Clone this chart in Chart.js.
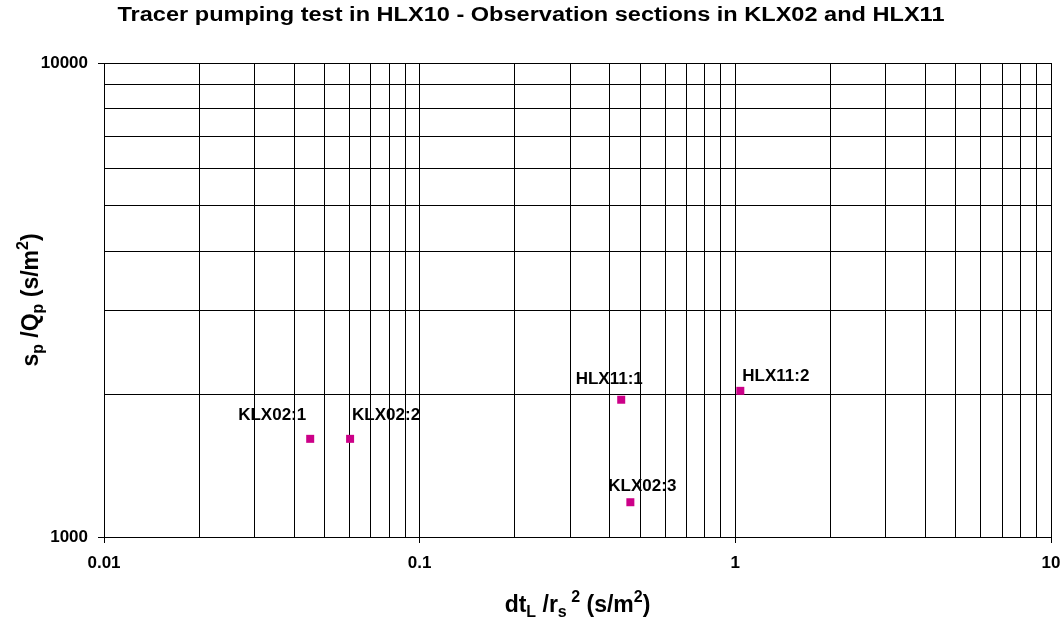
<!DOCTYPE html>
<html>
<head>
<meta charset="utf-8">
<script src="https://cdn.jsdelivr.net/npm/chart.js@4"></script>
<style>
  html, body { margin: 0; padding: 0; background: #fff; }
  canvas { display: block; }
</style>
</head>
<body>
<canvas id="chart" width="1063" height="621"></canvas>
<script>
// values
const titleText = 'Tracer pumping test in HLX10 - Observation sections in KLX02 and HLX11';
const pointNames = ['KLX02:1', 'KLX02:2', 'HLX11:1', 'HLX11:2', 'KLX02:3'];
const dtValues = [0.0450, 0.0602, 0.435, 1.037, 0.465];      // dt_L / r_s^2
const spQpValues = [1611, 1611, 1948, 2034, 1184];           // s_p / Q_p
const xTickLabels = ['0.01', '0.1', '1', '10'];
const yTickLabels = ['1000', '10000'];

const FONT = '"Liberation Sans", Arial, sans-serif';
const MARK = '#CC0088';

// label placement next to each point (dx, dy in px, text alignment)
const labelPlacement = [
  { dx: -4, dy: -24, align: 'right' },
  { dx: 2, dy: -24, align: 'left' },
  { dx: -12, dy: -20, align: 'center' },
  { dx: 2, dy: -15, align: 'left' },
  { dx: 12, dy: -16, align: 'center' }
];

function isDecade(v) {
  const l = Math.log10(v);
  return Math.abs(l - Math.round(l)) < 1e-6;
}
function decadeLabel(v, labels) {
  if (!isDecade(v)) return '';
  const found = labels.find(s => Math.abs(parseFloat(s) - v) < v * 1e-6);
  return found || '';
}
// 1..9 x 10^n grid lines between min and max
function logTicks(scale) {
  const ticks = [];
  const e0 = Math.round(Math.log10(scale.min));
  const e1 = Math.round(Math.log10(scale.max));
  for (let e = e0; e < e1; e++) {
    for (let m = 1; m < 10; m++) ticks.push({ value: parseFloat((m * Math.pow(10, e)).toPrecision(6)) });
  }
  ticks.push({ value: scale.max });
  scale.ticks = ticks;
}

// draws text with subscripts / superscripts, centred on x
function drawRich(ctx, segs, x, y, size) {
  const small = Math.round(size * 0.68);
  let total = 0;
  segs.forEach(s => {
    ctx.font = 'bold ' + (s[1] ? small : size) + 'px ' + FONT;
    s.w = ctx.measureText(s[0]).width;
    total += s.w;
  });
  let cx = x - total / 2;
  ctx.textAlign = 'left';
  ctx.textBaseline = 'alphabetic';
  segs.forEach(s => {
    ctx.font = 'bold ' + (s[1] ? small : size) + 'px ' + FONT;
    let off = 0;
    if (s[1] === 1) off = size * 0.2;
    if (s[1] === 2) off = -size * 0.42;
    ctx.fillText(s[0], cx, y + off);
    cx += s.w;
  });
}

const textPlugin = {
  id: 'texts',
  afterDraw(chart) {
    const ctx = chart.ctx;
    const area = chart.chartArea;
    ctx.save();
    ctx.fillStyle = '#000';

    // chart title (the original is a bit wider than the plain font)
    ctx.save();
    ctx.font = 'bold 19.5px ' + FONT;
    ctx.textAlign = 'center';
    ctx.textBaseline = 'alphabetic';
    const tw = ctx.measureText(titleText).width;
    const sx = 827 / tw;
    ctx.translate(531, 21);
    ctx.scale(sx, 1);
    ctx.fillText(titleText, 0, 0);
    ctx.restore();

    // point labels
    const meta = chart.getDatasetMeta(0);
    ctx.font = 'bold 17px ' + FONT;
    ctx.textBaseline = 'middle';
    meta.data.forEach((pt, i) => {
      const p = labelPlacement[i];
      ctx.textAlign = p.align;
      ctx.fillText(pointNames[i], pt.x + p.dx, pt.y + p.dy);
    });

    // x axis title
    const midX = (area.left + area.right) / 2;
    drawRich(ctx, [['dt', 0], ['L', 1], [' /r', 0], ['s', 1], [' ', 1], ['2', 2], [' (s/m', 0], ['2', 2], [')', 0]], midX, 612, 23);

    // y axis title
    const midY = (area.top + area.bottom) / 2;
    ctx.translate(38, midY);
    ctx.rotate(-Math.PI / 2);
    drawRich(ctx, [['s', 0], ['p', 1], [' /Q', 0], ['p', 1], [' (s/m', 0], ['2', 2], [')', 0]], 0, 0, 23);
    ctx.restore();
  }
};

const gridOpts = {
  color: '#000',
  lineWidth: 1,
  tickLength: 6,
  tickColor: c => (c.tick && isDecade(c.tick.value)) ? '#000' : 'rgba(0,0,0,0)'
};

const ctx = document.getElementById('chart').getContext('2d');
const chart = new Chart(ctx, {
  type: 'scatter',
  data: {
    datasets: [{
      label: 'sections',
      data: dtValues.map((v, i) => ({ x: v, y: spQpValues[i] })),
      pointStyle: 'rect',
      pointRadius: 5.66,
      pointBorderWidth: 0,
      pointBackgroundColor: MARK,
      pointBorderColor: MARK,
      showLine: false
    }]
  },
  options: {
    responsive: false,
    animation: false,
    devicePixelRatio: 1,
    layout: { padding: { top: 63, right: 12, left: 0, bottom: 0 } },
    plugins: {
      legend: { display: false },
      title: { display: false },
      tooltip: { enabled: false }
    },
    scales: {
      x: {
        type: 'logarithmic',
        min: 0.01,
        max: 10,
        grid: gridOpts,
        border: { color: '#000', width: 1 },
        afterBuildTicks: logTicks,
        ticks: {
          autoSkip: false,
          maxRotation: 0,
          padding: 10,
          color: '#000',
          font: { family: FONT, size: 17, weight: 'bold' },
          callback: v => decadeLabel(v, xTickLabels)
        },
        afterFit: s => { s.height = 84; s.paddingLeft = 0; s.paddingRight = 0; }
      },
      y: {
        type: 'logarithmic',
        min: 1000,
        max: 10000,
        grid: gridOpts,
        border: { color: '#000', width: 1 },
        afterBuildTicks: logTicks,
        ticks: {
          autoSkip: false,
          padding: 10,
          color: '#000',
          font: { family: FONT, size: 17, weight: 'bold' },
          callback: v => decadeLabel(v, yTickLabels)
        },
        afterFit: s => { s.width = 104; }
      }
    }
  },
  plugins: [textPlugin]
});
</script>
</body>
</html>
